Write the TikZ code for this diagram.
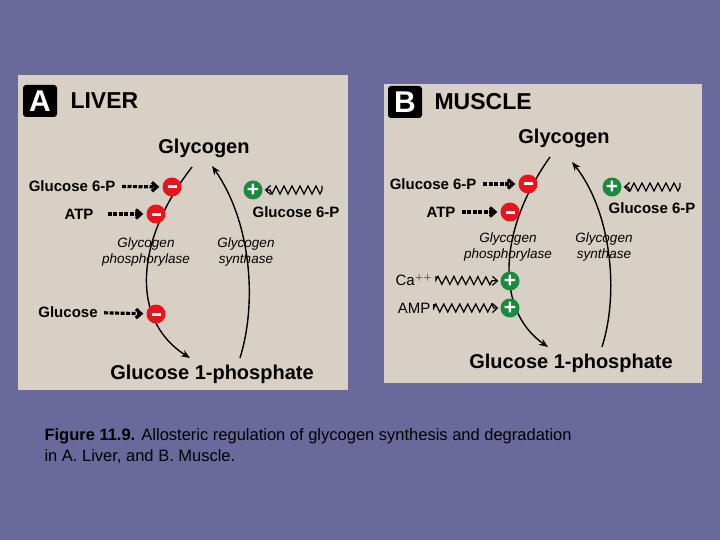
\documentclass[tikz,border=0pt]{standalone}
\usepackage{fontspec}
\setmainfont{Liberation Sans}
\usetikzlibrary{arrows.meta,decorations.pathmorphing}
\definecolor{slate}{HTML}{6A699B}
\definecolor{panel}{HTML}{D8D0C4}
\definecolor{inhib}{HTML}{E8141C}
\definecolor{activ}{HTML}{1A8A3C}
\newcommand{\minusbar}{\rule{9pt}{3pt}}
\begin{document}
\begin{tikzpicture}[
    x=1pt, y=-1pt,
    box/.style={fill=panel, draw=none},
    tag/.style={fill=black, text=white, rounded corners=3pt, minimum width=34pt, minimum height=32pt, font=\bfseries\fontsize{30}{30}\selectfont, inner sep=0pt},
    title/.style={anchor=west, font=\bfseries\fontsize{23}{24}\selectfont},
    met/.style={font=\bfseries\fontsize{20}{21}\selectfont},
    eff/.style={font=\bfseries\fontsize{15}{17}\selectfont},
    enz/.style={align=center, font=\itshape\fontsize{13.5}{15.5}\selectfont},
    minus/.style={circle, fill=inhib, minimum size=19pt, inner sep=0pt, text=white},
    plus/.style={circle, fill=activ, minimum size=19pt, inner sep=0pt, text=white, font=\bfseries\fontsize{21}{21}\selectfont},
    path/.style={-{Stealth[length=9pt,width=7pt]}, line width=1.4pt},
    inh/.style={-{Straight Barb[length=5pt,width=9pt]}, line width=3.2pt, dash pattern=on 4pt off 1.5pt, shorten <=3pt, shorten >=3pt},
    act/.style={-{Straight Barb[length=5pt,width=9pt]}, line width=1.2pt, shorten <=4pt, shorten >=2pt, decorate, decoration={zigzag, segment length=8pt, amplitude=4pt, post length=6pt}}
]
    \fill[slate] (0,0) rectangle (720,540);
    % Liver panel
    \fill[box] (18,75) rectangle (348,390);
    \node[tag] (tagA) at (40,101) {A};
    \node[title] (liver) at (67,101) {LIVER};
    \node[met] (glyA) at (204,148) {Glycogen};
    \node[met] (g1pA) at (212,374) {Glucose 1-phosphate};
    \coordinate (topA) at (192,167);
    \coordinate (botA) at (190,358);
    \coordinate (srcA) at (240,358);
    \coordinate (endA) at (212,166);
    \draw[path] (topA) .. controls (135,240) and (130,320) .. (botA);
    \draw[path] (srcA) .. controls (258,300) and (250,220) .. (endA);
    \node[enz] (phA) at (146,252) {Glycogen\\phosphorylase};
    \node[enz] (synA) at (246,252) {Glycogen\\synthase};
    \node[minus] (m1A) at (172,187) {\minusbar};
    \node[minus] (m2A) at (156,214) {\minusbar};
    \node[minus] (m3A) at (156,314) {\minusbar};
    \node[plus] (p1A) at (253,190) {+};
    \node[eff, anchor=east] (g6pA) at (119,186) {Glucose 6-P};
    \node[eff] (atpA) at (79,214) {ATP};
    \node[eff] (glcA) at (68,312) {Glucose};
    \node[eff] (g6pA2) at (296,212) {Glucose 6-P};
    \coordinate (wavA) at (322,190);
    \draw[inh] (g6pA) -- (m1A);
    \draw[inh] (atpA.east)+(8,0) -- (m2A);
    \draw[inh] (glcA) -- (m3A);
    \draw[act] (wavA) -- (p1A);
    % Muscle panel
    \fill[box] (384,84) rectangle (702,383);
    \node[tag] (tagB) at (405,102) {B};
    \node[title] (muscle) at (431,102) {MUSCLE};
    \node[met] (glyB) at (564,138) {Glycogen};
    \node[met] (g1pB) at (571,363) {Glucose 1-phosphate};
    \coordinate (topB) at (550,157);
    \coordinate (botB) at (548,347);
    \coordinate (srcB) at (602,347);
    \coordinate (endB) at (572,162);
    \draw[path] (topB) .. controls (498,230) and (495,310) .. (botB);
    \draw[path] (srcB) .. controls (620,290) and (610,210) .. (endB);
    \node[enz] (phB) at (508,247) {Glycogen\\phosphorylase};
    \node[enz] (synB) at (604,247) {Glycogen\\synthase};
    \node[minus] (m1B) at (528,184) {\minusbar};
    \node[minus] (m2B) at (510,212) {\minusbar};
    \node[plus] (p1B) at (612,187) {+};
    \node[plus] (p2B) at (510,281) {+};
    \node[plus] (p3B) at (510,308) {+};
    \node[eff, anchor=east] (g6pB) at (480,184) {Glucose 6-P};
    \node[eff] (atpB) at (441,212) {ATP};
    \node[eff, font=\fontsize{15}{17}\selectfont] (caB) at (414,280) {Ca$^{\mathbf{++}}$};
    \node[eff, font=\fontsize{15}{17}\selectfont] (ampB) at (414,308) {AMP};
    \node[eff] (g6pB2) at (652,208) {Glucose 6-P};
    \coordinate (wavB) at (680,187);
    \draw[inh] (g6pB) -- (m1B);
    \draw[inh] (atpB) -- (m2B);
    \draw[act] (caB) -- (p2B);
    \draw[act] (ampB) -- (p3B);
    \draw[act] (wavB) -- (p1B);
    % Caption
    \node[anchor=north west, align=left, font=\fontsize{16.5}{21}\selectfont] (cap) at (41,425)
        {\textbf{Figure 11.9.} Allosteric regulation of glycogen synthesis and degradation\\in A. Liver, and B. Muscle.};
\end{tikzpicture}
\end{document}
